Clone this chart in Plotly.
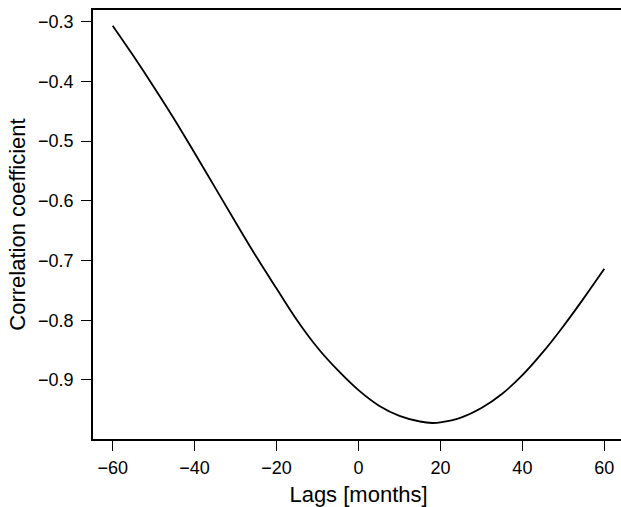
import plotly.graph_objects as go

lags = [-60, -55, -50, -45, -40, -35, -30, -25, -20, -15, -10, -5, 0, 5, 10, 15, 18, 20, 25, 30, 35, 40, 45, 50, 55, 60]
corr = [-0.307, -0.357, -0.409, -0.463, -0.520, -0.578, -0.636, -0.693, -0.747, -0.800, -0.846, -0.884, -0.917,
        -0.943, -0.960, -0.9695, -0.972, -0.971, -0.963, -0.947, -0.9235, -0.892, -0.8535, -0.810, -0.763, -0.714]

x_ticks = [-60, -40, -20, 0, 20, 40, 60]
y_ticks = [-0.9, -0.8, -0.7, -0.6, -0.5, -0.4, -0.3]

fig = go.Figure()
fig.add_trace(go.Scatter(x=lags, y=corr, mode="lines", line=dict(color="black", width=1.8, shape="spline"),
                         showlegend=False, hoverinfo="skip"))

font = "Liberation Sans, Arial, Helvetica, sans-serif"
fig.update_layout(
    width=624, height=507,
    margin=dict(l=93, r=0, t=10, b=68),
    paper_bgcolor="white", plot_bgcolor="white",
    font=dict(family=font, color="black", size=18),
    xaxis=dict(range=[-64.8, 64.8], tickvals=x_ticks, ticktext=[("\u2212" + str(-v)) if v < 0 else str(v) for v in x_ticks],
               showgrid=False, zeroline=False, showline=True, linecolor="black", linewidth=1.5, mirror=True,
               ticks="outside", ticklen=10, tickwidth=1.2, tickcolor="black", ticklabelstandoff=2,
               title=dict(text="Lags [months]", font=dict(size=22), standoff=10)),
    yaxis=dict(range=[-0.9988, -0.2807], tickvals=y_ticks, ticktext=["\u2212%.1f" % (-v) for v in y_ticks],
               showgrid=False, zeroline=False, showline=True, linecolor="black", linewidth=1.5, mirror=False,
               ticks="outside", ticklen=10, tickwidth=1.2, tickcolor="black", ticklabelstandoff=4,
               title=dict(text="Correlation coefficient", font=dict(size=22), standoff=6)),
)

fig.write_html("out.html", config={"displayModeBar": False},
               post_script="document.body.style.margin='0';document.body.style.overflow='hidden';")
